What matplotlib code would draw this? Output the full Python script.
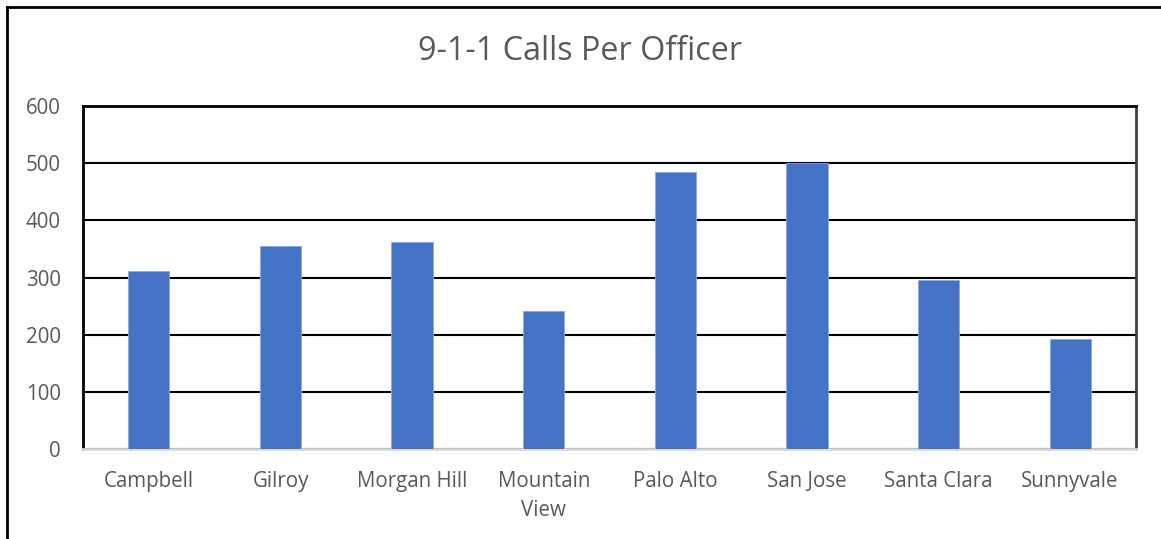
import matplotlib.pyplot as plt
from matplotlib.lines import Line2D

# 9-1-1 calls per officer
cities = ['Campbell', 'Gilroy', 'Morgan Hill', 'Mountain\nView', 'Palo Alto',
          'San Jose', 'Santa Clara', 'Sunnyvale']
calls_per_officer = [312, 355, 362, 242, 484, 501, 295, 192]
y_ticks = [0, 100, 200, 300, 400, 500, 600]

plt.rcParams['font.family'] = ['Open Sans', 'DejaVu Sans']
text_grey = '#595959'

W, H = 1161, 539
fig = plt.figure(figsize=(W / 100, H / 100), dpi=100)
ax = fig.add_axes([83 / W, 1 - 449 / H, (1136 - 83) / W, (449 - 106) / H])

x = range(len(cities))
ax.bar(x, calls_per_officer, width=0.313, color='#4472c4',
       edgecolor='#8faadc', linewidth=0.6, zorder=3)

ax.set_xlim(-0.5, len(cities) - 0.5)
ax.set_ylim(0, 600)
ax.set_yticks(y_ticks)
ax.set_xticks(list(x))
ax.set_xticklabels(cities, linespacing=1.5)
ax.tick_params(axis='both', length=0, colors=text_grey, labelsize=14.8)
ax.tick_params(axis='x', pad=16)
ax.tick_params(axis='y', pad=16)
ax.yaxis.grid(True, color='black', linewidth=1.5, zorder=1)

ax.spines['left'].set_color('black')
ax.spines['left'].set_linewidth(2)
ax.spines['top'].set_color('black')
ax.spines['top'].set_linewidth(2)
ax.spines['right'].set_color('#404040')
ax.spines['right'].set_linewidth(2)
ax.spines['bottom'].set_color('#d9d9d9')
ax.spines['bottom'].set_linewidth(2)

fig.text(0.5, 1 - 51 / H, '9-1-1 Calls Per Officer', ha='center', va='center',
         fontsize=23.3, color=text_grey)

# chart area border (only left and top edges are visible in the crop)
fig.add_artist(Line2D([7 / W, 7 / W], [0, 1 - 7 / H], color='black', linewidth=2,
                      transform=fig.transFigure))
fig.add_artist(Line2D([7 / W, 1], [1 - 7 / H, 1 - 7 / H], color='black', linewidth=2,
                      transform=fig.transFigure))

fig.savefig('out.png', dpi=100)
